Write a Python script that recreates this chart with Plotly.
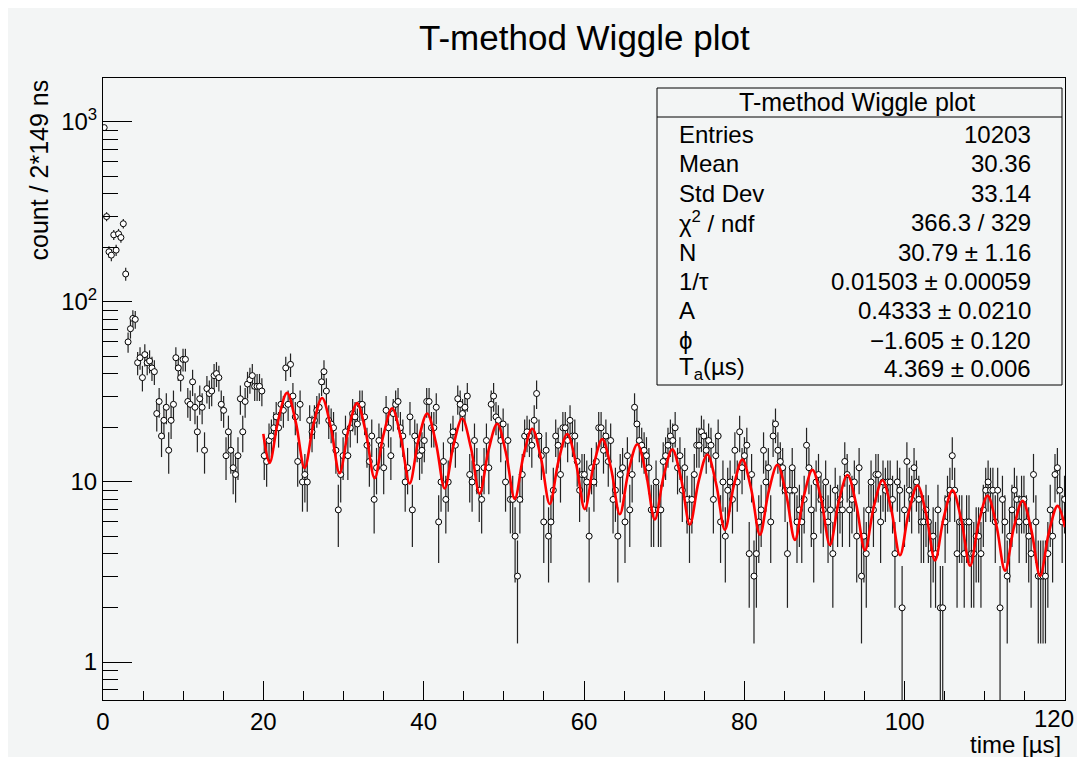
import plotly.graph_objects as go

# ---------------- data ----------------
BIN_WIDTH_US = 0.298  # 2*149 ns

COUNTS = [
    930, 298, 190, 182, 236, 194, 239, 228, 272, 143,
    60, 71, 81, 80, 46, 49, 38, 51, 46, 47,
    43, 41, 24, 28, 18, 22, 26, 15, 22, 27,
    49, 43, 38, 48, 48, 28, 27, 36, 26, 19,
    29, 26, 15, 33, 31, 32, 39, 40, 38, 27,
    25, 14, 19, 15, 12, 11, 14, 29, 19, 28,
    35, 37, 39, 34, 34, 34, 32, 14, 13, 17,
    18, 20, 23, 20, 27, 25, 43, 27, 45, 30,
    23, 13, 27, 10, 11, 10, 22, 19, 22, 25,
    26, 36, 41, 32, 22, 21, 20, 15, 7, 11,
    14, 19, 14, 20, 24, 23, 21, 27, 27, 23,
    16, 13, 18, 8, 12, 17, 16, 12, 25, 20,
    14, 24, 27, 28, 20, 18, 10, 12, 23, 7,
    18, 17, 14, 15, 17, 28, 28, 20, 20, 26,
    6, 10, 13, 8, 10, 17, 19, 16, 29, 27,
    24, 26, 30, 11, 10, 17, 12, 9, 8, 12,
    17, 12, 27, 30, 23, 22, 17, 21, 10, 17,
    8, 8, 5, 3, 8, 11, 18, 19, 18, 16,
    22, 31, 18, 14, 6, 15, 5, 6, 9, 18,
    16, 11, 20, 20, 17, 22, 18, 18, 13, 9,
    11, 11, 10, 5, 12, 10, 13, 20, 20, 15,
    18, 13, 17, 8, 9, 5, 11, 12, 6, 14,
    7, 11, 26, 21, 17, 16, 15, 14, 12, 7,
    7, 10, 7, 7, 13, 14, 16, 18, 17, 20,
    12, 14, 9, 12, 8, 6, 8, 11, 16, 16,
    19, 18, 15, 17, 16, 8, 14, 18, 6, 10,
    5, 9, 10, 8, 15, 10, 19, 12, 14, 16,
    4, 11, 3, 4, 6, 7, 15, 10, 12, 6,
    18, 21, 15, 13, 12, 9, 4, 9, 12, 9,
    6, 7, 6, 8, 16, 12, 7, 5, 10, 11,
    8, 7, 10, 6, 7, 4, 9, 7, 8, 7,
    13, 11, 7, 8, 10, 5, 12, 3, 5, 4,
    7, 10, 7, 11, 11, 6, 10, 9, 10, 10,
    8, 4, 10, 9, 2, 7, 13, 9, 8, 12,
    10, 8, 6, 6, 7, 6, 4, 5, 4, 7,
    2, 2, 6, 8, 9, 14, 9, 4, 6, 6,
    4, 6, 6, 4, 4, 5, 5, 4, 7, 9,
    10, 9, 9, 6, 9, 2, 8, 6, 3, 5,
    7, 9, 8, 6, 8, 8, 6, 5, 4, 11,
    6, 3, 3, 3, 3, 4, 7, 5, 11, 12,
    9, 6, 8,
]

# fit curve (extrema and mid-points)
FIT_T = [20.0, 20.777, 21.869, 22.961, 24.054, 25.146, 26.238, 27.330, 28.423, 29.515,
         30.607, 31.699, 32.792, 33.884, 34.976, 36.068, 37.161, 38.253, 39.345, 40.437,
         41.530, 42.622, 43.714, 44.806, 45.899, 46.991, 48.083, 49.175, 50.268, 51.360,
         52.452, 53.544, 54.637, 55.729, 56.821, 57.913, 59.006, 60.098, 61.190, 62.282,
         63.375, 64.467, 65.559, 66.651, 67.744, 68.836, 69.928, 71.020, 72.113, 73.205,
         74.297, 75.389, 76.482, 77.574, 78.666, 79.758, 80.851, 81.943, 83.035, 84.127,
         85.220, 86.312, 87.404, 88.496, 89.589, 90.681, 91.773, 92.865, 93.958, 95.050,
         96.142, 97.234, 98.327, 99.419, 100.511, 101.603, 102.696, 103.788, 104.880, 105.972,
         107.065, 108.157, 109.249, 110.341, 111.434, 112.526, 113.618, 114.710, 115.803, 116.895,
         117.987, 119.079, 120.0]
FIT_Y = [18.5, 12.77, 22.17, 31.25, 21.45, 11.96, 20.76, 29.27, 20.09, 11.20,
         19.44, 27.41, 18.81, 10.49, 18.20, 25.66, 17.62, 9.82, 17.05, 24.03,
         16.50, 9.20, 15.96, 22.51, 15.45, 8.61, 14.95, 21.08, 14.47, 8.06,
         14.00, 19.74, 13.55, 7.55, 13.11, 18.48, 12.69, 7.07, 12.28, 17.31,
         11.88, 6.62, 11.50, 16.21, 11.12, 6.20, 10.76, 15.18, 10.42, 5.81,
         10.08, 14.21, 9.76, 5.44, 9.44, 13.31, 9.14, 5.09, 8.84, 12.46,
         8.55, 4.77, 8.28, 11.67, 8.01, 4.47, 7.75, 10.93, 7.50, 4.18,
         7.26, 10.23, 7.03, 3.92, 6.80, 9.58, 6.58, 3.67, 6.37, 8.98,
         6.16, 3.43, 5.96, 8.40, 5.77, 3.22, 5.58, 7.87, 5.40, 3.01,
         5.23, 7.37, 5.61]

X_TICKS = [0, 20, 40, 60, 80, 100, 120]
X_TICK_TEXT = ["0", "20", "40", "60", "80", "100", ""]
X_LAST_LABEL = "120"   # drawn separately so it stays inside the page
Y_TICKS = [1, 10, 100, 1000]
Y_TICK_TEXT = ["1", "10", "10<sup>2</sup>", "10<sup>3</sup>"]
Y_MINOR = [0.7, 0.8, 0.9, 2, 3, 4, 5, 6, 7, 8, 9, 20, 30, 40, 50, 60, 70, 80, 90,
           200, 300, 400, 500, 600, 700, 800, 900]

TITLE = "T-method Wiggle plot"
STATS_LABELS = ["Entries", "Mean", "Std Dev", "χ<sup>2</sup> / ndf", "N", "1/τ", "A", "ϕ",
                "T<sub>a</sub>(µs)"]
STATS_VALUES = ["10203", "30.36", "33.14", "366.3 / 329", "30.79 ± 1.16",
                "0.01503 ± 0.00059", "0.4333 ± 0.0210", "−1.605 ± 0.120", "4.369 ± 0.006"]

# ---------------- derived ----------------
bin_centers = [BIN_WIDTH_US * (i + 0.5) for i in range(len(COUNTS))]
errors = [c ** 0.5 for c in COUNTS]

# ---------------- geometry ----------------
OFF = 8  # body margin of the html page
W, H = 1069, 749
ML, MR, MT, MB = 95, 12, 70, 57
PW = W - ML - MR
PH = H - MT - MB


def px(sx):
    return (sx - OFF - ML) / PW


def py(sy):
    return 1 - (sy - OFF - MT) / PH


FONT = "Liberation Sans, Arial, Helvetica, sans-serif"
BG = "#f3f5f5"

fig = go.Figure()
fig.add_trace(go.Scatter(
    x=bin_centers, y=COUNTS, mode="markers",
    marker=dict(symbol="circle", size=6, color="white", line=dict(color="black", width=1)),
    error_y=dict(type="data", array=errors, visible=True, color="#222222", thickness=1.2, width=0),
    showlegend=False, hoverinfo="x+y",
))
fig.add_trace(go.Scatter(
    x=FIT_T, y=FIT_Y, mode="lines",
    line=dict(color="#ff0000", width=2.6, shape="spline", smoothing=1.0),
    showlegend=False, hoverinfo="skip",
))

fig.update_layout(
    width=W, height=H,
    margin=dict(l=ML, r=MR, t=MT, b=MB, pad=0, autoexpand=False),
    paper_bgcolor=BG, plot_bgcolor=BG,
    font=dict(family=FONT, color="black", size=24),
    showlegend=False,
)
fig.update_xaxes(
    range=[0, 120], showgrid=False, zeroline=False, automargin=False,
    showline=True, mirror=True, linecolor="black", linewidth=1,
    tickmode="array", tickvals=X_TICKS, ticktext=X_TICK_TEXT,
    ticks="inside", ticklen=19, tickwidth=1, tickcolor="black",
    tickfont=dict(size=24, family=FONT, color="black"),
    minor=dict(dtick=5, ticks="inside", ticklen=9, tickwidth=1, tickcolor="black", showgrid=False),
)
fig.update_yaxes(
    type="log", range=[-0.211, 3.244], showgrid=False, zeroline=False, automargin=False,
    showline=True, mirror=True, linecolor="black", linewidth=1,
    tickmode="array", tickvals=Y_TICKS, ticktext=Y_TICK_TEXT,
    ticks="inside", ticklen=29, tickwidth=1, tickcolor="black",
    tickfont=dict(size=24, family=FONT, color="black"),
    minor=dict(tickvals=Y_MINOR, ticks="inside", ticklen=15, tickwidth=1, tickcolor="black",
               showgrid=False),
)

ann = []
# last x tick label, kept inside the page edge
ann.append(dict(text=X_LAST_LABEL, xref="paper", yref="paper", x=px(1076), y=py(718),
                xanchor="right", yanchor="middle", showarrow=False,
                font=dict(size=24, family=FONT, color="black")))
# main title
ann.append(dict(text=TITLE, xref="paper", yref="paper", x=px(584), y=py(38),
                xanchor="center", yanchor="middle", showarrow=False,
                font=dict(size=35, family=FONT, color="black")))
# axis titles
ann.append(dict(text="count / 2*149 ns", xref="paper", yref="paper", x=px(38), y=py(78),
                xanchor="center", yanchor="top", textangle=-90, showarrow=False,
                font=dict(size=25, family=FONT, color="black")))
ann.append(dict(text="time [µs]", xref="paper", yref="paper", x=px(1063), y=py(744),
                xanchor="right", yanchor="middle", showarrow=False,
                font=dict(size=24, family=FONT, color="black")))

# stats box
shapes = [
    dict(type="rect", xref="paper", yref="paper", x0=px(657), x1=px(1062), y0=py(385), y1=py(88),
         line=dict(color="black", width=1), fillcolor=BG, layer="above"),
    dict(type="line", xref="paper", yref="paper", x0=px(657), x1=px(1062), y0=py(117), y1=py(117),
         line=dict(color="black", width=1), layer="above"),
]
ann.append(dict(text=TITLE, xref="paper", yref="paper", x=px(857), y=py(102),
                xanchor="center", yanchor="middle", showarrow=False,
                font=dict(size=25, family=FONT, color="black")))
ROW_Y = [134, 163, 193, 222, 252, 281, 310, 340, 368]
for lab, val, ry in zip(STATS_LABELS, STATS_VALUES, ROW_Y):
    ann.append(dict(text=lab, xref="paper", yref="paper", x=px(677), y=py(ry),
                    xanchor="left", yanchor="middle", showarrow=False,
                    font=dict(size=24, family=FONT, color="black")))
    ann.append(dict(text=val, xref="paper", yref="paper", x=px(1033), y=py(ry),
                    xanchor="right", yanchor="middle", showarrow=False,
                    font=dict(size=24, family=FONT, color="black")))

fig.update_layout(annotations=ann, shapes=shapes)
fig.write_html("out.html")
